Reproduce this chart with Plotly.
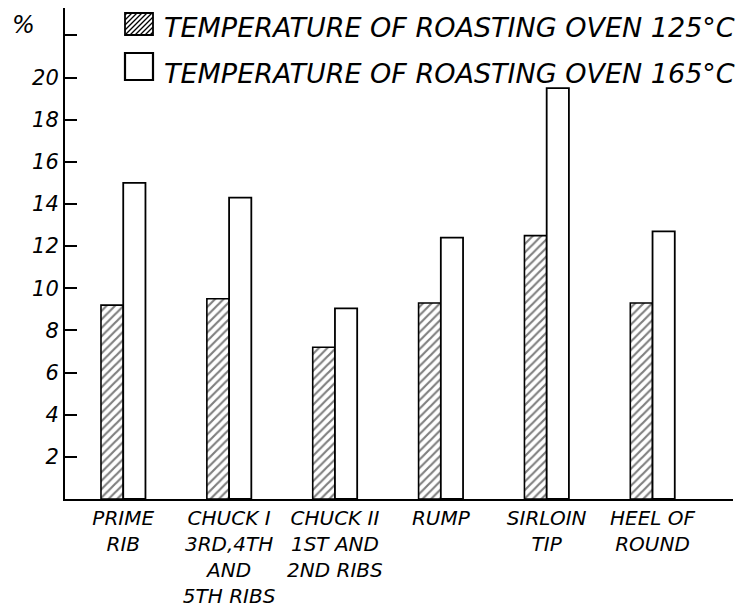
import plotly.graph_objects as go

categories = ["PRIME<br>RIB", "CHUCK I<br>3RD,4TH<br>AND<br>5TH RIBS", "CHUCK II<br>1ST AND<br>2ND RIBS",
              "RUMP", "SIRLOIN<br>TIP", "HEEL OF<br>ROUND"]
oven_125 = [9.2, 9.5, 7.2, 9.3, 12.5, 9.3]
oven_165 = [15.0, 14.3, 9.05, 12.4, 19.5, 12.7]
legend_names = ["TEMPERATURE OF ROASTING OVEN 125°C", "TEMPERATURE OF ROASTING OVEN 165°C"]
y_ticks = [2, 4, 6, 8, 10, 12, 14, 16, 18, 20, 22]
y_ticktext = ["2", "4", "6", "8", "10", "12", "14", "16", "18", "20", ""]

FONT = "DejaVu Sans"
OFF = 8  # page body margin
W, H = 755 - OFF, 608 - OFF
L, R, T, B = 57, 22, 0, 109
PW, PH = W - L - R, H - T - B

def px(x):
    return (x - OFF - L) / PW

def py(y):
    return (H - B - (y - OFF)) / PH

x = list(range(len(categories)))

fig = go.Figure()
fig.add_trace(go.Bar(
    x=x, y=oven_125, name=legend_names[0],
    marker=dict(color="white", line=dict(color="black", width=1.6),
                pattern=dict(shape="/", fgcolor="black", bgcolor="white", size=6, solidity=0.36)),
    showlegend=False,
))
fig.add_trace(go.Bar(
    x=x, y=oven_165, name=legend_names[1],
    marker=dict(color="white", line=dict(color="black", width=1.8)),
    showlegend=False,
))

shapes = []
# legend box 1 (hatched)
bx0, bx1, by0, by1 = 125, 153, 13, 35
shapes.append(dict(type="rect", xref="paper", yref="paper", x0=px(bx0), x1=px(bx1),
                   y0=py(by1), y1=py(by0), line=dict(color="black", width=1.8), fillcolor="white"))
path = ""
step = 5
for k in range(-30, 30, step):
    xa, ya = bx0 + k, by1
    xb, yb = xa + (by1 - by0), by0
    if xa < bx0:
        ya = ya - (bx0 - xa); xa = bx0
    if xb > bx1:
        yb = yb + (xb - bx1); xb = bx1
    if xa >= xb:
        continue
    path += f"M{px(xa)},{py(ya)} L{px(xb)},{py(yb)} "
shapes.append(dict(type="path", xref="paper", yref="paper", path=path, line=dict(color="black", width=1.3)))
# legend box 2 (plain)
shapes.append(dict(type="rect", xref="paper", yref="paper", x0=px(125), x1=px(153),
                   y0=py(80), y1=py(53), line=dict(color="black", width=2.2), fillcolor="white"))

annotations = [
    dict(text=legend_names[0], xref="paper", yref="paper", x=px(162), y=py(28), xanchor="left",
         yanchor="middle", showarrow=False, font=dict(family=FONT, size=27, color="black", style="italic")),
    dict(text=legend_names[1], xref="paper", yref="paper", x=px(162), y=py(73), xanchor="left",
         yanchor="middle", showarrow=False, font=dict(family=FONT, size=27, color="black", style="italic")),
    dict(text="%", xref="paper", yref="paper", x=px(23), y=py(25), xanchor="center",
         yanchor="middle", showarrow=False, font=dict(family=FONT, size=24, color="black", style="italic")),
]

fig.update_layout(
    width=W, height=H,
    margin=dict(l=L, r=R, t=T, b=B, pad=0),
    paper_bgcolor="white", plot_bgcolor="white",
    barmode="group", bargap=0.58, bargroupgap=0,
    shapes=shapes, annotations=annotations,
    font=dict(family=FONT, color="black", style="italic"),
)
fig.update_xaxes(
    range=[-0.55, 5.76], tickvals=x, ticktext=categories, showgrid=False, zeroline=False,
    showline=True, linecolor="black", linewidth=2, ticks="",
    tickfont=dict(family=FONT, size=20, color="black", style="italic"),
)
fig.update_yaxes(
    range=[0, 23.3], tickvals=y_ticks, ticktext=y_ticktext, showgrid=False, zeroline=False,
    showline=True, linecolor="black", linewidth=2, ticks="inside", ticklen=12, tickwidth=1.6,
    tickcolor="black", ticklabelstandoff=0,
    tickfont=dict(family=FONT, size=21, color="black", style="italic"),
)

fig.write_html("out.html")
